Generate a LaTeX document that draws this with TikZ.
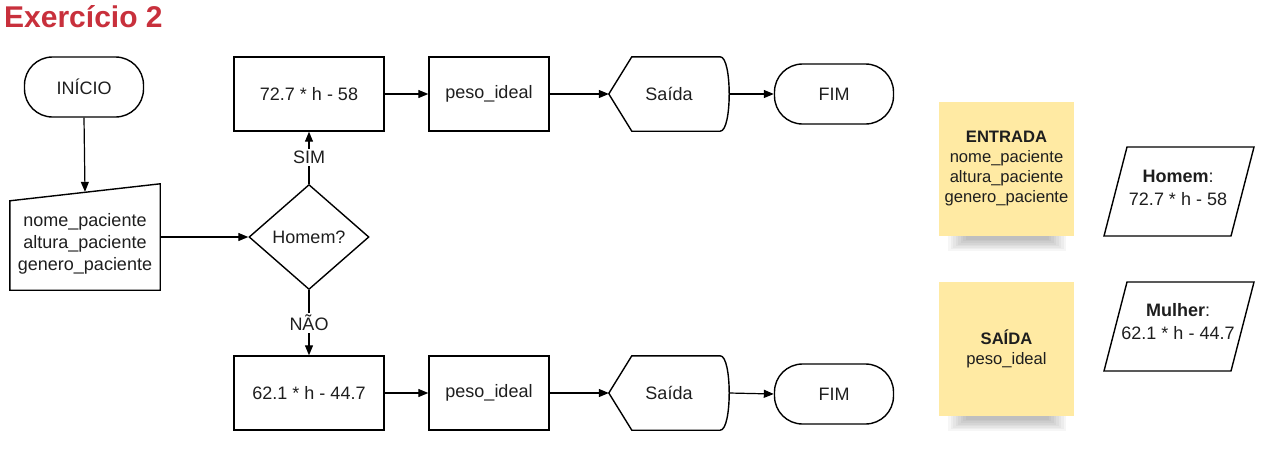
\documentclass[tikz,border=0pt]{standalone}
\usepackage{fontspec}
\setmainfont{Liberation Sans}
\usetikzlibrary{shapes.geometric,arrows.meta,calc}
\definecolor{titlered}{RGB}{200,48,60}
\definecolor{note}{RGB}{255,234,163}
\definecolor{ink}{RGB}{30,30,30}
\begin{document}
\begin{tikzpicture}[x=1pt,y=-1pt,
  every node/.style={font=\fontsize{18}{22}\selectfont, text=ink, align=center, inner sep=0pt},
  line/.style={draw=black, line width=1.4pt},
  proc/.style={line, rectangle, minimum width=150pt, minimum height=74pt},
  term/.style={line, rectangle, rounded corners=28pt, minimum width=119pt, minimum height=60pt},
  ghost/.style={draw=none, rectangle},
  arr/.style={draw=black, line width=1.2pt, -{Triangle[length=10pt,width=8pt]}},
  notebox/.style={fill=note, minimum width=135pt, minimum height=134pt, font=\fontsize{16.6}{20}\selectfont},
  lbl/.style={fill=white, inner sep=2pt}
]
\useasboundingbox (0,0) rectangle (1274,464);

% title
\node[anchor=west, text=titlered, font=\fontsize{30}{34}\selectfont\bfseries] (title) at (4,17) {Exercício 2};

% start
\node[term] (ini) at (84,87) {INÍCIO};

% manual input
\node[ghost, minimum width=150pt, minimum height=106pt] (inp) at (85,237) {};
\draw[line, line join=miter] ($(inp.north west)+(0,17)$) -- (inp.north east) -- (inp.south east) -- (inp.south west) -- cycle;
\node at (85,244) (inptxt) {nome\_paciente\\altura\_paciente\\genero\_paciente};

% decision
\node[line, diamond, minimum width=120pt, minimum height=105pt] (dec) at (309,237) {Homem?};

% top row
\node[proc] (p1) at (309,94) {72.7 * h - 58};
\node[proc, minimum width=120pt] (v1) at (489,94) {peso\_ideal};
\node[ghost, minimum width=120pt, minimum height=74pt] (s1) at (669,94) {Saída};
\draw[line] (s1.west) -- ($(s1.north west)+(23,0)$) -- ($(s1.north east)+(-9,0)$)
  .. controls ($(s1.north east)+(3,0)$) and ($(s1.south east)+(3,0)$) .. ($(s1.south east)+(-9,0)$)
  -- ($(s1.south west)+(23,0)$) -- cycle;
\node[term] (f1) at (834,94) {FIM};

% bottom row
\node[proc] (p2) at (309,393) {62.1 * h - 44.7};
\node[proc, minimum width=120pt] (v2) at (489,393) {peso\_ideal};
\node[ghost, minimum width=120pt, minimum height=74pt] (s2) at (669,393) {Saída};
\draw[line] (s2.west) -- ($(s2.north west)+(23,0)$) -- ($(s2.north east)+(-9,0)$)
  .. controls ($(s2.north east)+(3,0)$) and ($(s2.south east)+(3,0)$) .. ($(s2.south east)+(-9,0)$)
  -- ($(s2.south west)+(23,0)$) -- cycle;
\node[term] (f2) at (834,394) {FIM};

% connectors
\draw[arr] (ini.south) -- ($(inp.north)+(0,8)$);
\draw[arr] (inp.east) -- (dec.west);
\draw[arr] (dec.north) -- node[lbl] (sim) {SIM} (p1.south);
\draw[arr] (dec.south) -- node[lbl] (nao) {NÃO} (p2.north);
\draw[arr] (p1.east) -- (v1.west);
\draw[arr] (v1.east) -- (s1.west);
\draw[arr] (s1.east) -- (f1.west);
\draw[arr] (p2.east) -- (v2.west);
\draw[arr] (v2.east) -- (s2.west);
\draw[arr] (s2.east) -- (f2.west);

% sticky notes with shadows
\foreach \y in {236,416}{
  \foreach \i in {0,...,7}{
    \fill[black, opacity=0.035] (948+\i*2.5,\y-2) rectangle (1066-\i*2.5,\y+15-\i*1.6);
  }
}
\node[notebox] (nin) at (1006.5,169) {\textbf{ENTRADA}\\nome\_paciente\\altura\_paciente\\genero\_paciente};
\node[notebox] (nout) at (1006.5,349) {\textbf{SAÍDA}\\peso\_ideal};

% parallelograms
\draw[line] (1127,147) -- (1254,147) -- (1231,236) -- (1104,236) -- cycle;
\node[font=\fontsize{18}{23}\selectfont] (hom) at (1178,188) {\textbf{Homem}:\\72.7 * h - 58};
\draw[line] (1127,282) -- (1254,282) -- (1231,371) -- (1104,371) -- cycle;
\node[font=\fontsize{18}{23}\selectfont] (mul) at (1178,322) {\textbf{Mulher}:\\62.1 * h - 44.7};
\end{tikzpicture}
\end{document}
